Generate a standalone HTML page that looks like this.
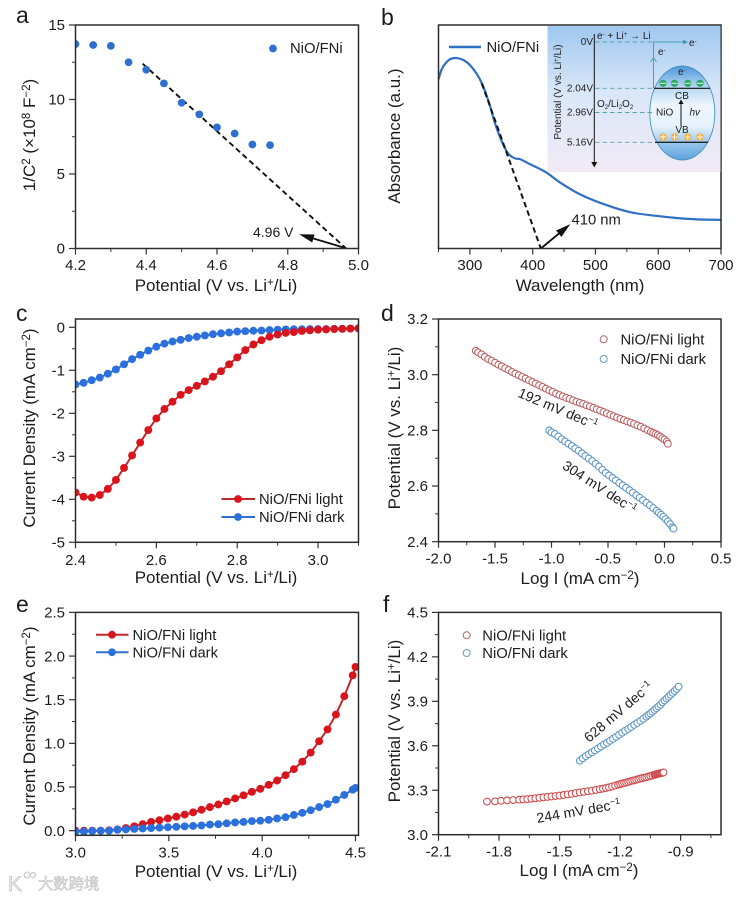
<!DOCTYPE html>
<html lang="en">
<head>
<meta charset="utf-8">
<title>NiO/FNi photoelectrochemical characterisation</title>
<style>
html,body{margin:0;padding:0;background:#fff;width:750px;height:898px;overflow:hidden}
svg{display:block;filter:blur(.3px)}
text{font-family:"Liberation Sans","Noto Sans CJK SC",sans-serif;fill:#1c1c1c}
.title{font-size:17px}
.tick{font-size:15px}
.leg{font-size:14.8px}
.note{font-size:14px}
.letter{font-size:23px}
.ins{font-size:10px}
</style>
</head>
<body>
<svg id="figure" xmlns="http://www.w3.org/2000/svg" width="750" height="898" viewBox="0 0 750 898">
<defs>
<linearGradient id="insetBg" x1="0" y1="0" x2="0" y2="1">
<stop offset="0" stop-color="#9fc8ef"/><stop offset=".45" stop-color="#d9e7f8"/><stop offset="1" stop-color="#f2eaf6"/>
</linearGradient>
<linearGradient id="ellBg" x1="0" y1="0" x2="0" y2="1">
<stop offset="0" stop-color="#4e97dc"/><stop offset=".22" stop-color="#b5d6f2"/><stop offset=".42" stop-color="#eef6fc"/><stop offset=".65" stop-color="#e4f0fa"/><stop offset=".85" stop-color="#8dbfe9"/><stop offset="1" stop-color="#5ba2df"/>
</linearGradient>
</defs>
<rect width="750" height="898" fill="#fff"/>

<g id="panel-a">
<g id="a-marks"></g>
<text class="letter" x="16" y="23">a</text>
<text class="title" x="216" y="291" text-anchor="middle">Potential (V vs. Li<tspan dy="-5" font-size="11.5">+</tspan><tspan dy="5">/Li)</tspan></text>
<text class="title" transform="translate(35,135) rotate(-90)" text-anchor="middle">1/C<tspan dy="-5" font-size="11.5">2</tspan><tspan dy="5"> (×10</tspan><tspan dy="-5" font-size="11.5">8</tspan><tspan dy="5"> F</tspan><tspan dy="-5" font-size="11.5">−2</tspan><tspan dy="5">)</tspan></text>
<circle cx="273" cy="48.5" r="3.9" fill="#2e70d0"/>
<text class="leg" x="290" y="53">NiO/FNi</text>
<text class="note" x="253" y="237">4.96 V</text>
</g>

<g id="panel-b">
<g id="b-marks"></g>
<text class="letter" x="381" y="25">b</text>
<text class="title" x="580" y="291" text-anchor="middle">Wavelength (nm)</text>
<text class="title" transform="translate(400,136) rotate(-90)" text-anchor="middle">Absorbance (a.u.)</text>
<line x1="449" y1="47" x2="481" y2="47" stroke="#2f6fc4" stroke-width="2.4"/>
<text class="leg" x="486.5" y="52">NiO/FNi</text>
<text class="leg" x="571.5" y="224.5">410 nm</text>

<g id="band-diagram-inset">
<rect x="547.5" y="26" width="173" height="146" fill="url(#insetBg)"/>
<ellipse cx="682.3" cy="113" rx="32.5" ry="47" fill="url(#ellBg)" stroke="#4a90bd" stroke-width=".9"/>
<g stroke="#5aa3ad" stroke-width=".9" stroke-dasharray="4.5 3" fill="none">
<line x1="595" y1="42" x2="653" y2="42"/><line x1="595" y1="88.3" x2="654" y2="88.3"/><line x1="595" y1="112.5" x2="654" y2="112.5"/><line x1="595" y1="142.3" x2="655" y2="142.3"/>
</g>
<line x1="594.3" y1="34" x2="594.3" y2="163" stroke="#111" stroke-width="1"/>
<polygon points="591.3,162 597.3,162 594.3,167.5" fill="#111"/>
<line x1="654" y1="88.3" x2="710" y2="88.3" stroke="#111" stroke-width="1.1"/>
<line x1="655" y1="142.3" x2="708" y2="142.3" stroke="#222" stroke-width="1.3"/>
<path d="M653.5 88V42H685" fill="none" stroke="#4aa0b4" stroke-width="1"/>
<path d="M650.5 62l3-4.5 3 4.5" fill="none" stroke="#4aa0b4" stroke-width="1"/>
<polygon points="683,39.5 688,42 683,44.5" fill="#3f96b0"/>
<g fill="#2aa864">
<circle cx="663" cy="83.3" r="3.6"/><circle cx="674.5" cy="83.3" r="3.6"/><circle cx="687.8" cy="83.3" r="3.6"/><circle cx="700" cy="83.3" r="3.6"/>
</g>
<g stroke="#e4f5ea" stroke-width="1">
<line x1="660" y1="83.3" x2="666" y2="83.3"/><line x1="671.5" y1="83.3" x2="677.5" y2="83.3"/><line x1="684.8" y1="83.3" x2="690.8" y2="83.3"/><line x1="697" y1="83.3" x2="703" y2="83.3"/>
</g>
<g fill="#f0b04a">
<circle cx="663" cy="137" r="3.7"/><circle cx="674.5" cy="137" r="3.7"/><circle cx="687.8" cy="137" r="3.7"/><circle cx="700" cy="137" r="3.7"/>
</g>
<path d="M660 137h6M663 134v6M671.5 137h6M674.5 134v6M684.8 137h6M687.8 134v6M697 137h6M700 134v6" stroke="#fff6df" stroke-width="1"/>
<line x1="681" y1="126" x2="681" y2="103" stroke="#111" stroke-width="1"/>
<polygon points="678.5,104 683.5,104 681,99.5" fill="#111"/>
<text class="ins" transform="translate(561,92) rotate(-90)" text-anchor="middle">Potential (V vs. Li<tspan dy="-3" font-size="6">+</tspan><tspan dy="3">/Li)</tspan></text>
<text class="ins" x="593" y="45" text-anchor="end">0V</text>
<text class="ins" x="593" y="91.5" text-anchor="end">2.04V</text>
<text class="ins" x="593" y="115.5" text-anchor="end">2.96V</text>
<text class="ins" x="593" y="145.5" text-anchor="end">5.16V</text>
<text class="ins" x="597" y="39">e<tspan dy="-3" font-size="6">-</tspan><tspan dy="3"> + Li</tspan><tspan dy="-3" font-size="6">+</tspan><tspan dy="3"> → Li</tspan></text>
<text class="ins" x="597" y="107">O<tspan dy="2" font-size="6">2</tspan><tspan dy="-2">/Li</tspan><tspan dy="2" font-size="6">2</tspan><tspan dy="-2">O</tspan><tspan dy="2" font-size="6">2</tspan></text>
<text class="ins" x="689" y="46">e<tspan dy="-3" font-size="6">-</tspan></text>
<text class="ins" x="658" y="55">e<tspan dy="-3" font-size="6">-</tspan></text>
<text class="ins" x="678" y="75">e<tspan dy="-3" font-size="6">-</tspan></text>
<text class="ins" x="682" y="99" text-anchor="middle">CB</text>
<text class="ins" x="682" y="133" text-anchor="middle">VB</text>
<text class="ins" x="656" y="115.5">NiO</text>
<text class="ins" x="689.5" y="115.5" font-style="italic">hv</text>
</g>
</g>

<g id="panel-c">
<g id="c-marks"></g>
<text class="letter" x="16" y="321">c</text>
<text class="title" x="216" y="583" text-anchor="middle">Potential (V vs. Li<tspan dy="-5" font-size="11.5">+</tspan><tspan dy="5">/Li)</tspan></text>
<text class="title" transform="translate(35,428) rotate(-90)" text-anchor="middle">Current Density (mA cm<tspan dy="-5" font-size="11.5">−2</tspan><tspan dy="5">)</tspan></text>
<line x1="221.5" y1="499" x2="255" y2="499" stroke="#c0272d" stroke-width="2"/>
<circle cx="238" cy="499" r="3.9" fill="#d9141c"/>
<text class="leg" x="259" y="504">NiO/FNi light</text>
<line x1="221.5" y1="517" x2="255" y2="517" stroke="#2f70cf" stroke-width="2"/>
<circle cx="238" cy="517" r="3.9" fill="#2b70dc"/>
<text class="leg" x="259" y="522">NiO/FNi dark</text>
</g>

<g id="panel-d">
<g id="d-marks"></g>
<text class="letter" x="381" y="321">d</text>
<text class="title" x="580" y="584" text-anchor="middle">Log I (mA cm<tspan dy="-5" font-size="11.5">−2</tspan><tspan dy="5">)</tspan></text>
<text class="title" transform="translate(400,428) rotate(-90)" text-anchor="middle">Potential (V vs. Li<tspan dy="-5" font-size="11.5">+</tspan><tspan dy="5">/Li)</tspan></text>
<circle cx="603.7" cy="339.3" r="3.5" fill="#fff" stroke="#b9686b" stroke-width="1"/>
<text class="leg" x="620.5" y="344.5">NiO/FNi light</text>
<circle cx="603.7" cy="359" r="3.5" fill="#fff" stroke="#6a9cc8" stroke-width="1"/>
<text class="leg" x="620.5" y="364">NiO/FNi dark</text>
<text class="note" transform="translate(517,396.5) rotate(23)">192 mV dec<tspan dy="-5" font-size="9">−1</tspan></text>
<text class="note" transform="translate(561.5,468) rotate(33)">304 mV dec<tspan dy="-5" font-size="9">−1</tspan></text>
</g>

<g id="panel-e">
<g id="e-marks"></g>
<text class="letter" x="16" y="612">e</text>
<text class="title" x="216" y="877" text-anchor="middle">Potential (V vs. Li<tspan dy="-5" font-size="11.5">+</tspan><tspan dy="5">/Li)</tspan></text>
<text class="title" transform="translate(35,726) rotate(-90)" text-anchor="middle">Current Density (mA cm<tspan dy="-5" font-size="11.5">−2</tspan><tspan dy="5">)</tspan></text>
<line x1="96" y1="634.7" x2="128.5" y2="634.7" stroke="#c0272d" stroke-width="2"/>
<circle cx="112" cy="634.7" r="3.9" fill="#d9141c"/>
<text class="leg" x="132.5" y="640">NiO/FNi light</text>
<line x1="96" y1="652.3" x2="128.5" y2="652.3" stroke="#2f70cf" stroke-width="2"/>
<circle cx="112" cy="652.3" r="3.9" fill="#2b70dc"/>
<text class="leg" x="132.5" y="657.5">NiO/FNi dark</text>
<g>
<text x="8" y="891" font-size="21" style="fill:#ececec;stroke:#c4c4c4;stroke-width:.7">K</text>
<circle cx="27" cy="875" r="3" fill="#f4f4f4" stroke="#c8c8c8"/>
<circle cx="33" cy="875" r="2.6" fill="#f4f4f4" stroke="#c8c8c8"/>
<text x="38" y="889" font-size="15.3" style="fill:#eeeeee;stroke:#c0c0c0;stroke-width:.6">大数跨境</text>
</g>
</g>

<g id="panel-f">
<g id="f-marks"></g>
<text class="letter" x="383" y="612">f</text>
<text class="title" x="579" y="876" text-anchor="middle">Log I (mA cm<tspan dy="-5" font-size="11.5">−2</tspan><tspan dy="5">)</tspan></text>
<text class="title" transform="translate(400,721) rotate(-90)" text-anchor="middle">Potential (V vs. Li<tspan dy="-5" font-size="11.5">+</tspan><tspan dy="5">/Li)</tspan></text>
<circle cx="466.7" cy="635.3" r="3.5" fill="#fff" stroke="#b9686b" stroke-width="1"/>
<text class="leg" x="482.3" y="640.5">NiO/FNi light</text>
<circle cx="466.7" cy="653" r="3.5" fill="#fff" stroke="#6a9cc8" stroke-width="1"/>
<text class="leg" x="482.3" y="658">NiO/FNi dark</text>
<text class="note" transform="translate(589,743) rotate(-40.5)">628 mV dec<tspan dy="-5" font-size="9">−1</tspan></text>
<text class="note" transform="translate(537.5,823) rotate(-10)">244 mV dec<tspan dy="-5" font-size="9">−1</tspan></text>
</g>
</svg>

<script>
// ---------- panel a ----------
const aPotential = [4.2,4.25,4.3,4.35,4.4,4.45,4.5,4.55,4.6,4.65,4.7,4.75];
const aInverseC2 = [13.72,13.66,13.6,12.5,12.0,11.08,9.78,9.0,8.13,7.72,6.98,6.94];
const aFitX = [4.39,4.965];
const aFitY = [12.4,0];
const aArrowX = [4.96,4.832];
const aArrowY = [0.05,0.96];
const aXTicks = ['4.2','4.4','4.6','4.8','5.0'];
const aXMinor = [4.3,4.5,4.7,4.9];
const aYTicks = ['0','5','10','15'];
const aYMinor = [2.5,7.5,12.5];

// ---------- panel b ----------
const bWavelength = [250,255,261,269,279,290,300,311,319,330,340,351,361,372,380,393,420,446,478,521,558,600,627,659,700];
const bAbsorbance = [.757,.801,.828,.848,.852,.843,.821,.781,.739,.657,.56,.478,.425,.403,.4,.381,.343,.291,.239,.191,.161,.145,.137,.131,.128];
const bFitX = [319,413];
const bFitY = [.739,0];
const bArrowX = [413,460];
const bArrowY = [0,.109];
const bXTicks = ['300','400','500','600','700'];
const bXMinor = [250,350,450,550,650];

// ---------- panel c ----------
const cPotential = [2.4,2.42,2.44,2.46,2.48,2.5,2.52,2.54,2.56,2.58,2.6,2.62,2.64,2.66,2.68,2.7,2.72,2.74,2.76,2.78,2.8,2.82,2.84,2.86,2.88,2.9,2.92,2.94,2.96,2.98,3.0,3.02,3.04,3.06,3.08,3.1];
const cLight = [-3.84,-3.94,-3.96,-3.9,-3.76,-3.55,-3.27,-2.98,-2.68,-2.39,-2.12,-1.9,-1.73,-1.57,-1.46,-1.36,-1.26,-1.15,-1.02,-.86,-.7,-.53,-.4,-.3,-.22,-.17,-.13,-.11,-.085,-.07,-.055,-.05,-.04,-.035,-.03,-.02];
const cDark = [-1.33,-1.29,-1.23,-1.17,-1.08,-.98,-.86,-.74,-.64,-.54,-.45,-.38,-.33,-.29,-.25,-.22,-.19,-.16,-.14,-.12,-.1,-.09,-.08,-.075,-.065,-.055,-.05,-.045,-.045,-.04,-.04,-.04,-.035,-.035,-.03,-.03];
const cXTicks = ['2.4','2.6','2.8','3.0'];
const cXMinor = [2.5,2.7,2.9,3.1];
const cYTicks = ['0','-1','-2','-3','-4','-5'];
const cYMinor = [-.5,-1.5,-2.5,-3.5,-4.5];

// ---------- panel d ----------
const dLightX = [-1.67,-1.65,-1.62,-1.59,-1.56,-1.53,-1.5,-1.47,-1.44,-1.41,-1.38,-1.35,-1.32,-1.29,-1.26,-1.23,-1.2,-1.17,-1.14,-1.11,-1.08,-1.05,-1.02,-.99,-.96,-.93,-.9,-.87,-.84,-.81,-.78,-.75,-.72,-.69,-.66,-.63,-.6,-.57,-.54,-.51,-.48,-.45,-.42,-.39,-.36,-.33,-.3,-.27,-.24,-.21,-.18,-.15,-.12,-.1,-.08,-.06,-.04,-.02,0,.02,.03];
const dLightY = [3.086,3.08,3.073,3.064,3.056,3.05,3.043,3.036,3.03,3.023,3.017,3.01,3.004,2.998,2.992,2.986,2.98,2.974,2.968,2.962,2.956,2.95,2.944,2.938,2.932,2.927,2.922,2.917,2.913,2.908,2.903,2.899,2.895,2.89,2.886,2.881,2.876,2.871,2.866,2.861,2.856,2.851,2.846,2.841,2.837,2.832,2.828,2.823,2.818,2.813,2.807,2.801,2.795,2.791,2.787,2.783,2.778,2.772,2.767,2.76,2.752];
const dDarkX = [-1.02,-1,-.97,-.94,-.91,-.88,-.85,-.82,-.79,-.76,-.73,-.7,-.67,-.64,-.61,-.58,-.55,-.52,-.49,-.46,-.43,-.4,-.37,-.34,-.31,-.28,-.25,-.22,-.19,-.16,-.13,-.1,-.07,-.05,-.03,-.01,.01,.03,.05,.07,.08];
const dDarkY = [2.8,2.793,2.787,2.778,2.768,2.76,2.752,2.744,2.735,2.727,2.717,2.708,2.699,2.69,2.68,2.67,2.658,2.647,2.638,2.629,2.62,2.611,2.602,2.594,2.585,2.576,2.567,2.558,2.549,2.54,2.531,2.521,2.511,2.504,2.497,2.49,2.481,2.473,2.463,2.452,2.447];
const dXTicks = ['-2.0','-1.5','-1.0','-0.5','0.0','0.5'];
const dXMinor = [-1.75,-1.25,-.75,-.25,.25];
const dYTicks = ['2.4','2.6','2.8','3.0','3.2'];
const dYMinor = [2.5,2.7,2.9,3.1];

// ---------- panel e ----------
const ePotential = [3,3.045,3.09,3.135,3.18,3.225,3.27,3.315,3.36,3.405,3.45,3.495,3.54,3.585,3.63,3.675,3.72,3.765,3.81,3.855,3.9,3.945,3.99,4.035,4.08,4.125,4.17,4.215,4.26,4.305,4.35,4.395,4.44,4.485,4.5];
const eLight = [0,0,0,0,.005,.015,.03,.05,.075,.1,.12,.14,.16,.185,.21,.24,.27,.3,.335,.37,.405,.445,.48,.525,.575,.635,.705,.79,.895,1.025,1.16,1.33,1.54,1.78,1.875];
const eDark = [-.01,-.01,-.005,0,0,.01,.015,.02,.025,.03,.035,.04,.045,.05,.055,.06,.07,.075,.085,.095,.1,.11,.115,.125,.14,.155,.18,.205,.235,.27,.305,.355,.41,.47,.49];
const eXTicks = ['3.0','3.5','4.0','4.5'];
const eXMinor = [3.25,3.75,4.25];
const eYTicks = ['0.0','0.5','1.0','1.5','2.0','2.5'];
const eYMinor = [.25,.75,1.25,1.75,2.25];

// ---------- panel f ----------
const fLightX = [-1.86,-1.82,-1.79,-1.76,-1.73,-1.7,-1.68,-1.66,-1.64,-1.62,-1.6,-1.58,-1.56,-1.54,-1.52,-1.5,-1.48,-1.46,-1.44,-1.42,-1.4,-1.38,-1.36,-1.34,-1.32,-1.3,-1.285,-1.27,-1.255,-1.24,-1.225,-1.21,-1.2,-1.19,-1.18,-1.17,-1.16,-1.15,-1.14,-1.13,-1.12,-1.11,-1.1,-1.09,-1.08,-1.07,-1.06,-1.05,-1.04,-1.03,-1.025,-1.02,-1.015,-1.01,-1.005,-1,-.995,-.99,-.985];
const fLightY = [3.223,3.225,3.229,3.232,3.234,3.236,3.238,3.24,3.243,3.246,3.249,3.252,3.255,3.258,3.261,3.264,3.268,3.272,3.276,3.281,3.285,3.289,3.293,3.297,3.302,3.307,3.311,3.315,3.32,3.325,3.331,3.337,3.341,3.345,3.349,3.352,3.356,3.36,3.364,3.367,3.371,3.375,3.379,3.382,3.385,3.388,3.392,3.396,3.4,3.404,3.406,3.408,3.41,3.412,3.413,3.415,3.416,3.418,3.42];
const fDarkX = [-1.4,-1.385,-1.37,-1.355,-1.34,-1.325,-1.31,-1.295,-1.28,-1.265,-1.25,-1.235,-1.22,-1.205,-1.19,-1.175,-1.16,-1.145,-1.13,-1.115,-1.1,-1.085,-1.07,-1.06,-1.05,-1.04,-1.03,-1.02,-1.01,-1,-.99,-.98,-.97,-.96,-.95,-.94,-.93,-.92,-.91];
const fDarkY = [3.499,3.515,3.53,3.543,3.556,3.568,3.582,3.595,3.608,3.62,3.634,3.647,3.66,3.674,3.688,3.701,3.714,3.727,3.741,3.754,3.768,3.782,3.797,3.808,3.818,3.83,3.842,3.854,3.866,3.877,3.893,3.906,3.919,3.931,3.944,3.957,3.97,3.983,3.999];
const fXTicks = ['-2.1','-1.8','-1.5','-1.2','-0.9'];
const fXMinor = [-1.95,-1.65,-1.35,-1.05,-.75];
const fYTicks = ['3.0','3.3','3.6','3.9','4.2','4.5'];
const fYMinor = [3.15,3.45,3.75,4.05,4.35];

const SVGNS = 'http://www.w3.org/2000/svg';

function draw(parent, tag, name, attrs, content) {
  const el = document.createElementNS(SVGNS, tag);
  
  
  for (const key in attrs) el.setAttribute(key, attrs[key]);
  if (content !== undefined) el.textContent = content;
  parent.appendChild(el);
  return el;
}

function scale(d0, d1, p0, p1) {
  return function (v) { return p0 + (v - d0) / (d1 - d0) * (p1 - p0); };
}

function makeClip(id, box) {
  const root = document.querySelector('#figure defs');
  const clip = document.createElementNS(SVGNS, 'clipPath');
  clip.setAttribute('id', id);
  const r = document.createElementNS(SVGNS, 'rect');
  r.setAttribute('x', box.l);
  r.setAttribute('y', box.t);
  r.setAttribute('width', box.r - box.l);
  r.setAttribute('height', box.b - box.t);
  clip.appendChild(r);
  root.appendChild(clip);
}

function drawAxes(g, sx, sy, box, xTicks, xMinor, yTicks, yMinor, xLabelY) {
  const tickColor = '#333';
  xTicks.forEach(function (label) {
    const x = sx(Number(label));
    draw(g, 'line', 'x-tick', {x1: x, x2: x, y1: box.b, y2: box.b + 6, stroke: tickColor, 'stroke-width': 1.2});
    draw(g, 'text', 'x-tick-label', {x: x, y: xLabelY, 'text-anchor': 'middle', class: 'tick'}, label);
  });
  xMinor.forEach(function (v) {
    const x = sx(v);
    draw(g, 'line', 'x-minor-tick', {x1: x, x2: x, y1: box.b, y2: box.b + 3.5, stroke: tickColor, 'stroke-width': 1});
  });
  yTicks.forEach(function (label) {
    const y = sy(Number(label));
    draw(g, 'line', 'y-tick', {x1: box.l - 6.5, x2: box.l, y1: y, y2: y, stroke: tickColor, 'stroke-width': 1.2});
    draw(g, 'text', 'y-tick-label', {x: box.l - 10.5, y: y + 5.2, 'text-anchor': 'end', class: 'tick'}, label);
  });
  yMinor.forEach(function (v) {
    const y = sy(v);
    draw(g, 'line', 'y-minor-tick', {x1: box.l - 3.5, x2: box.l, y1: y, y2: y, stroke: tickColor, 'stroke-width': 1});
  });
}

function drawFrame(g, box) {
  draw(g, 'rect', 'plot-frame', {x: box.l, y: box.t, width: box.r - box.l, height: box.b - box.t, fill: 'none', stroke: '#2c2c2c', 'stroke-width': 1.5});
}

function linePath(xs, ys, sx, sy) {
  return xs.map(function (v, i) { return (i ? 'L' : 'M') + sx(v).toFixed(2) + ' ' + sy(ys[i]).toFixed(2); }).join('');
}

function smoothPath(xs, ys, sx, sy) {
  const pts = xs.map(function (v, i) { return [sx(v), sy(ys[i])]; });
  let d = 'M' + pts[0][0].toFixed(2) + ' ' + pts[0][1].toFixed(2);
  for (let i = 0; i < pts.length - 1; i++) {
    const p0 = pts[Math.max(i - 1, 0)], p1 = pts[i], p2 = pts[i + 1], p3 = pts[Math.min(i + 2, pts.length - 1)];
    d += 'C' + (p1[0] + (p2[0] - p0[0]) / 6).toFixed(2) + ' ' + (p1[1] + (p2[1] - p0[1]) / 6).toFixed(2) + ' ' +
      (p2[0] - (p3[0] - p1[0]) / 6).toFixed(2) + ' ' + (p2[1] - (p3[1] - p1[1]) / 6).toFixed(2) + ' ' +
      p2[0].toFixed(2) + ' ' + p2[1].toFixed(2);
  }
  return d;
}

function drawLineDots(g, name, xs, ys, sx, sy, lineColor, dotColor) {
  draw(g, 'path', name + '-line', {d: linePath(xs, ys, sx, sy), fill: 'none', stroke: lineColor, 'stroke-width': 2});
  xs.forEach(function (v, i) {
    draw(g, 'circle', name + '-point', {cx: sx(v), cy: sy(ys[i]), r: 3.95, fill: dotColor});
  });
}

function drawRings(g, name, xs, ys, sx, sy, color) {
  xs.forEach(function (v, i) {
    draw(g, 'circle', name + '-point', {cx: sx(v), cy: sy(ys[i]), r: 3.4, fill: '#fff', stroke: color, 'stroke-width': 1.05});
  });
}

function drawArrow(g, name, x0, y0, x1, y1) {
  const ang = Math.atan2(y1 - y0, x1 - x0);
  const len = 15, wid = 4.2;
  const bx = x1 - len * Math.cos(ang), by = y1 - len * Math.sin(ang);
  draw(g, 'line', name + '-shaft', {x1: x0, y1: y0, x2: bx, y2: by, stroke: '#111', 'stroke-width': 1.9});
  const pts = [[x1, y1], [bx - wid * Math.sin(ang), by + wid * Math.cos(ang)], [bx + wid * Math.sin(ang), by - wid * Math.cos(ang)]];
  draw(g, 'polygon', name + '-head', {points: pts.map(function (p) { return p[0].toFixed(1) + ',' + p[1].toFixed(1); }).join(' '), fill: '#111'});
}

// Panel a
(function () {
  const g = document.getElementById('a-marks');
  const box = {l: 75.5, r: 358.5, t: 25, b: 248.5};
  const sx = scale(4.2, 5, box.l, box.r), sy = scale(0, 15, box.b, box.t);
  makeClip('clip-a', box);
  drawAxes(g, sx, sy, box, aXTicks, aXMinor, aYTicks, aYMinor, 270);
  const c = draw(g, 'g', 'a-series', {'clip-path': 'url(#clip-a)'});
  draw(c, 'path', 'fit-line-a', {d: linePath(aFitX, aFitY, sx, sy), fill: 'none', stroke: '#111', 'stroke-width': 1.9, 'stroke-dasharray': '5.5 3.5'});
  aPotential.forEach(function (v, i) {
    draw(c, 'circle', 'data-point-a', {cx: sx(v), cy: sy(aInverseC2[i]), r: 3.9, fill: '#2e70d0'});
  });
  drawArrow(g, 'arrow-4-96-v', sx(aArrowX[0]), sy(aArrowY[0]), sx(aArrowX[1]), sy(aArrowY[1]));
  drawFrame(g, box);
})();

// Panel b
(function () {
  const g = document.getElementById('b-marks');
  const box = {l: 438.5, r: 721, t: 25, b: 248.5};
  const sx = scale(250, 700, box.l, box.r), sy = scale(0, 1, box.b, box.t);
  drawAxes(g, sx, sy, box, bXTicks, bXMinor, [], [], 270);
  draw(g, 'path', 'absorbance-curve', {d: smoothPath(bWavelength, bAbsorbance, sx, sy), fill: 'none', stroke: '#2f6fc4', 'stroke-width': 2.2});
  draw(g, 'path', 'fit-line-b', {d: linePath(bFitX, bFitY, sx, sy), fill: 'none', stroke: '#111', 'stroke-width': 2, 'stroke-dasharray': '5.5 3.5'});
  drawArrow(g, 'arrow-410-nm', sx(bArrowX[0]), sy(bArrowY[0]), sx(bArrowX[1]), sy(bArrowY[1]));
  drawFrame(g, box);
})();

// Panel c
(function () {
  const g = document.getElementById('c-marks');
  const box = {l: 75.5, r: 358.5, t: 319, b: 542.3};
  const sx = scale(2.4, 3.1, box.l, box.r), sy = scale(0, -5, 327.3, box.b);
  makeClip('clip-c', box);
  drawAxes(g, sx, sy, box, cXTicks, cXMinor, cYTicks, cYMinor, 565);
  const c = draw(g, 'g', 'c-series', {'clip-path': 'url(#clip-c)'});
  drawLineDots(c, 'dark-series-c', cPotential, cDark, sx, sy, '#2f70cf', '#2b70dc');
  drawLineDots(c, 'light-series-c', cPotential, cLight, sx, sy, '#c0272d', '#d9141c');
  drawFrame(g, box);
})();

// Panel d
(function () {
  const g = document.getElementById('d-marks');
  const box = {l: 438.5, r: 721, t: 319, b: 541.7};
  const sx = scale(-2, .5, box.l, box.r), sy = scale(2.4, 3.2, box.b, box.t);
  drawAxes(g, sx, sy, box, dXTicks, dXMinor, dYTicks, dYMinor, 563.5);
  drawRings(g, 'light-series-d', dLightX, dLightY, sx, sy, '#bd6063');
  drawRings(g, 'dark-series-d', dDarkX, dDarkY, sx, sy, '#5f95c6');
  drawFrame(g, box);
})();

// Panel e
(function () {
  const g = document.getElementById('e-marks');
  const box = {l: 75.5, r: 358.5, t: 612.4, b: 835.3};
  const sx = scale(3, 4.5, box.l, 355.5), sy = scale(0, 2.5, 830.7, box.t);
  makeClip('clip-e', box);
  drawAxes(g, sx, sy, box, eXTicks, eXMinor, eYTicks, eYMinor, 857.5);
  const c = draw(g, 'g', 'e-series', {'clip-path': 'url(#clip-e)'});
  drawLineDots(c, 'light-series-e', ePotential, eLight, sx, sy, '#c0272d', '#d9141c');
  drawLineDots(c, 'dark-series-e', ePotential, eDark, sx, sy, '#2f70cf', '#2b70dc');
  drawFrame(g, box);
})();

// Panel f
(function () {
  const g = document.getElementById('f-marks');
  const box = {l: 438.5, r: 721, t: 612.4, b: 834.7};
  const sx = scale(-2.1, -.7, box.l, box.r), sy = scale(3, 4.5, box.b, box.t);
  drawAxes(g, sx, sy, box, fXTicks, fXMinor, fYTicks, fYMinor, 856.5);
  drawRings(g, 'light-series-f', fLightX, fLightY, sx, sy, '#d0484a');
  drawRings(g, 'dark-series-f', fDarkX, fDarkY, sx, sy, '#5f95c6');
  drawFrame(g, box);
})();
</script>
</body>
</html>
